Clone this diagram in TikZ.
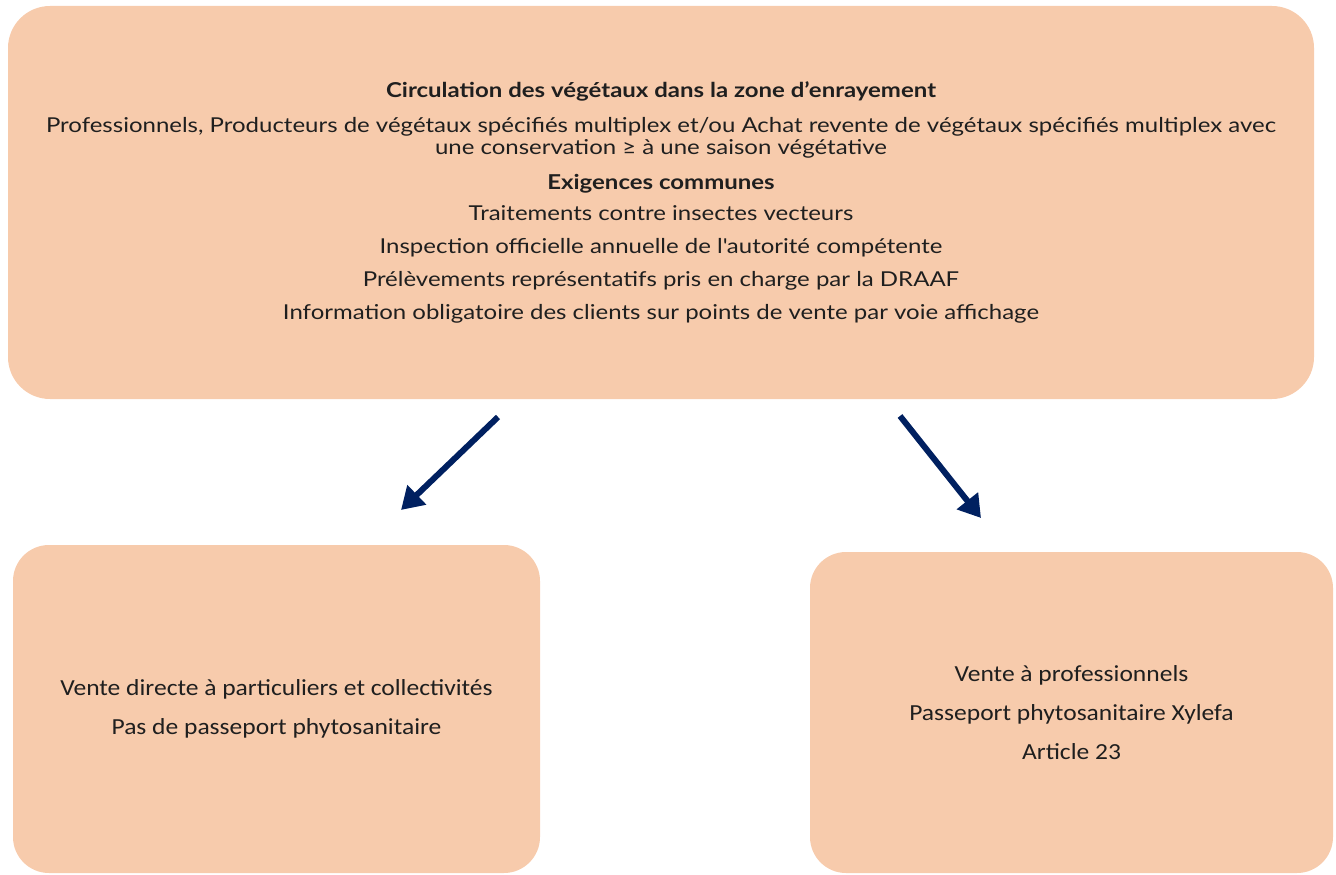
\documentclass[tikz,border=0pt]{standalone}
\usepackage{fontspec}
\setmainfont{Lato}[FakeStretch=1.17]
\newfontfamily\calibri{Carlito}[FakeStretch=1.11]
\usetikzlibrary{shapes,arrows.meta,positioning}
\definecolor{peche}{HTML}{F7CBAC}
\definecolor{marine}{HTML}{002060}
\tikzstyle{bloc} = [fill=peche,rectangle,inner sep=0,align=center,text=black!88]
\tikzstyle{haut} = [bloc,rounded corners=42pt,font=\fontsize{20.5}{22}\selectfont]
\tikzstyle{bas} = [bloc,rounded corners=36pt,font=\calibri\fontsize{23}{39}\selectfont]
\tikzstyle{fleche} = [-{Triangle[length=22pt,width=26pt]},line width=6pt,draw=marine]

\begin{document}
\begin{tikzpicture}[x=1pt,y=-1pt]
      \useasboundingbox (0,0) rectangle (1336,875);
      \node[haut,minimum width=1306pt,minimum height=393pt] (zone) at (661,202.5) {%
        \textbf{Circulation des végétaux dans la zone d’enrayement}\\[13pt]
        Professionnels, Producteurs de végétaux spécifiés multiplex et/ou Achat revente de végétaux spécifiés multiplex avec\\
        une conservation ≥ à une saison végétative\\[13pt]
        \textbf{Exigences communes}\\[9pt]
        Traitements contre insectes vecteurs\\[11pt]
        Inspection officielle annuelle de l\textquotesingle autorité compétente\\[11pt]
        Prélèvements représentatifs pris en charge par la DRAAF\\[11pt]
        Information obligatoire des clients sur points de vente par voie affichage};
      \node[bas,minimum width=527pt,minimum height=328pt] (directe) at (276.5,709) {%
        Vente directe à particuliers et collectivités\\
        Pas de passeport phytosanitaire};
      \node[bas,minimum width=523pt,minimum height=321pt] (pro) at (1071.5,712.5) {%
        Vente à professionnels\\
        Passeport phytosanitaire Xylefa\\
        Article 23};
      \coordinate (g1) at (498,417);
      \coordinate (g2) at (401,510);
      \coordinate (d1) at (900,416);
      \coordinate (d2) at (981,518);
      \draw[fleche] (g1) -- (g2);
      \draw[fleche] (d1) -- (d2);
    \end{tikzpicture}
\end{document}
